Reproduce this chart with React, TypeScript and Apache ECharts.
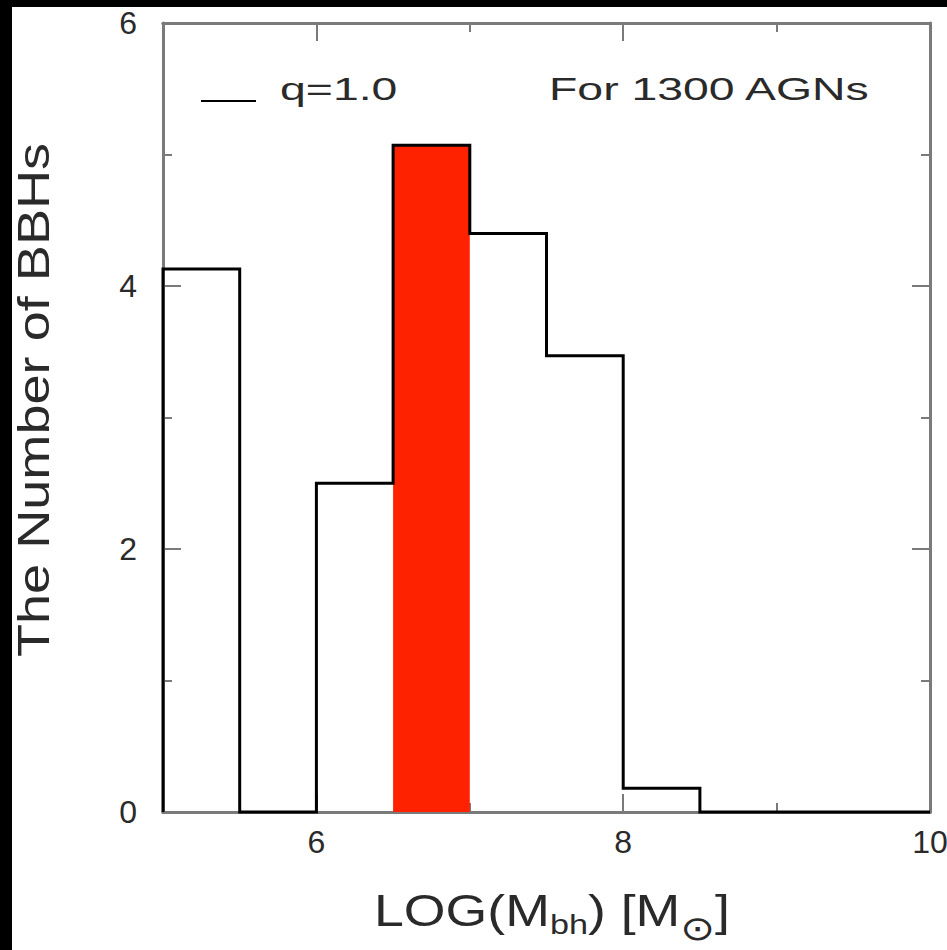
import React, { useEffect, useRef } from "react";
import * as echarts from "echarts";

// Histogram bins (LOG M_bh) and counts
const binEdges = [5, 5.5, 6, 6.5, 7, 7.5, 8, 8.5, 9, 9.5, 10];
const counts = [4.13, 0, 2.5, 5.07, 4.4, 3.47, 0.18, 0, 0, 0];
const highlightBin = 3; // 6.5–7.0 filled red

const xMajorTicks = [6, 8, 10];
const xMinorTicks = [7, 9];
const xTopMajorTicks = [6, 8];

const seriesName = "q=1.0";
const noteText = "For 1300 AGNs";
const yTitle = "The Number of BBHs";

const FONT = '"Liberation Sans", Arial, Helvetica, sans-serif';

export default function App() {
  const ref = useRef<HTMLDivElement>(null);

  useEffect(() => {
    if (!ref.current) return;
    const chart = echarts.init(ref.current, null, { renderer: "svg" });

    const stepPoints: number[][] = [[binEdges[0], 0]];
    counts.forEach((c, i) => {
      stepPoints.push([binEdges[i], c]);
      stepPoints.push([binEdges[i + 1], c]);
    });
    stepPoints.push([binEdges[binEdges.length - 1], 0]);

    const axisGray = "#7a7a7a";
    const labelColor = "#2a2a2a";

    const xBase = {
      type: "value",
      min: binEdges[0],
      max: binEdges[binEdges.length - 1],
      gridIndex: 0,
      splitLine: { show: false },
    };
    const axisLineOn = { show: true, onZero: false, lineStyle: { color: axisGray, width: 3 } };

    const option: any = {
      animation: false,
      backgroundColor: "#ffffff",
      grid: {
        left: 163,
        right: 17,
        top: 23,
        bottom: 138,
        containLabel: false,
        outerBoundsMode: "none",
      },
      xAxis: [
        {
          ...xBase,
          position: "bottom",
          axisLine: axisLineOn,
          axisTick: {
            show: true,
            inside: true,
            length: 18,
            customValues: xMajorTicks,
            lineStyle: { color: axisGray, width: 2 },
          },
          axisLabel: {
            show: true,
            customValues: xMajorTicks,
            fontSize: 32,
            fontFamily: FONT,
            color: labelColor,
            margin: 14,
            showMaxLabel: true,
          },
        },
        {
          ...xBase,
          position: "bottom",
          axisLine: axisLineOn,
          axisTick: {
            show: true,
            inside: true,
            length: 9,
            customValues: xMinorTicks,
            lineStyle: { color: axisGray, width: 2 },
          },
          axisLabel: { show: false },
        },
        {
          ...xBase,
          position: "top",
          axisLine: axisLineOn,
          axisTick: {
            show: true,
            inside: true,
            length: 18,
            customValues: xTopMajorTicks,
            lineStyle: { color: axisGray, width: 2 },
          },
          axisLabel: { show: false },
        },
        {
          ...xBase,
          position: "top",
          axisLine: axisLineOn,
          axisTick: {
            show: true,
            inside: true,
            length: 9,
            customValues: xMinorTicks,
            lineStyle: { color: axisGray, width: 2 },
          },
          axisLabel: { show: false },
        },
      ],
      yAxis: [
        {
          type: "value",
          min: 0,
          max: 6,
          interval: 2,
          position: "left",
          axisLine: axisLineOn,
          axisTick: { show: true, inside: true, length: 18, lineStyle: { color: axisGray, width: 2 } },
          minorTick: { show: true, splitNumber: 2, length: 9, lineStyle: { color: axisGray, width: 2 } },
          axisLabel: { fontSize: 32, fontFamily: FONT, color: labelColor, margin: 26 },
          splitLine: { show: false },
          minorSplitLine: { show: false },
        },
        {
          type: "value",
          min: 0,
          max: 6,
          interval: 2,
          position: "right",
          axisLine: axisLineOn,
          axisTick: { show: true, inside: true, length: 18, lineStyle: { color: axisGray, width: 2 } },
          minorTick: { show: true, splitNumber: 2, length: 9, lineStyle: { color: axisGray, width: 2 } },
          axisLabel: { show: false },
          splitLine: { show: false },
          minorSplitLine: { show: false },
        },
      ],
      series: [
        {
          type: "line",
          name: seriesName,
          xAxisIndex: 0,
          yAxisIndex: 0,
          data: stepPoints,
          symbol: "none",
          showSymbol: false,
          clip: false,
          lineStyle: { color: "#000000", width: 3, join: "miter" },
          z: 5,
          markArea: {
            silent: true,
            itemStyle: { color: "#ff2200", borderWidth: 0 },
            data: [
              [
                { coord: [binEdges[highlightBin], 0] },
                { coord: [binEdges[highlightBin + 1], counts[highlightBin]] },
              ],
            ],
          },
        },
      ],
      graphic: [
        { type: "rect", x: 0, y: 0, shape: { width: 947, height: 7 }, style: { fill: "#000" }, z: 100 },
        { type: "rect", x: 0, y: 0, shape: { width: 12, height: 950 }, style: { fill: "#000" }, z: 100 },
        {
          type: "line",
          shape: { x1: 201, y1: 101, x2: 256, y2: 101 },
          style: { stroke: "#000", lineWidth: 2 },
          z: 50,
        },
        {
          type: "text",
          x: 280,
          y: 89,
          scaleX: 1.45,
          style: {
            text: seriesName,
            fontSize: 32,
            fontFamily: FONT,
            fill: labelColor,
            align: "left",
            verticalAlign: "middle",
          },
          z: 50,
        },
        {
          type: "text",
          x: 549,
          y: 89,
          scaleX: 1.45,
          style: {
            text: noteText,
            fontSize: 32,
            fontFamily: FONT,
            fill: labelColor,
            align: "left",
            verticalAlign: "middle",
          },
          z: 50,
        },
        {
          type: "text",
          x: 33,
          y: 400,
          rotation: Math.PI / 2,
          scaleX: 1.23,
          style: {
            text: yTitle,
            fontSize: 44,
            fontFamily: FONT,
            fill: labelColor,
            align: "center",
            verticalAlign: "middle",
          },
          z: 50,
        },
        {
          type: "text",
          x: 552,
          y: 889,
          scaleX: 1.22,
          style: {
            text: "{n|LOG(M}{s|bh}{n|) [M}{o|⊙}{n|]}",
            fill: labelColor,
            align: "center",
            verticalAlign: "top",
            rich: {
              n: { fontSize: 44, fontFamily: FONT, fill: labelColor, verticalAlign: "top" },
              s: {
                fontSize: 28,
                fontFamily: FONT,
                fill: labelColor,
                verticalAlign: "top",
                padding: [22, 0, 0, 0],
              },
              o: {
                fontSize: 34,
                fontFamily: '"DejaVu Sans", sans-serif',
                fill: labelColor,
                verticalAlign: "top",
                padding: [22, 0, 0, 0],
              },
            },
          },
          z: 50,
        },
      ],
    };

    chart.setOption(option);
    return () => {
      chart.dispose();
    };
  }, []);

  return (
    <div
      ref={ref}
      style={{ position: "absolute", left: 0, top: 0, width: 947, height: 950, background: "#fff" }}
    />
  );
}
